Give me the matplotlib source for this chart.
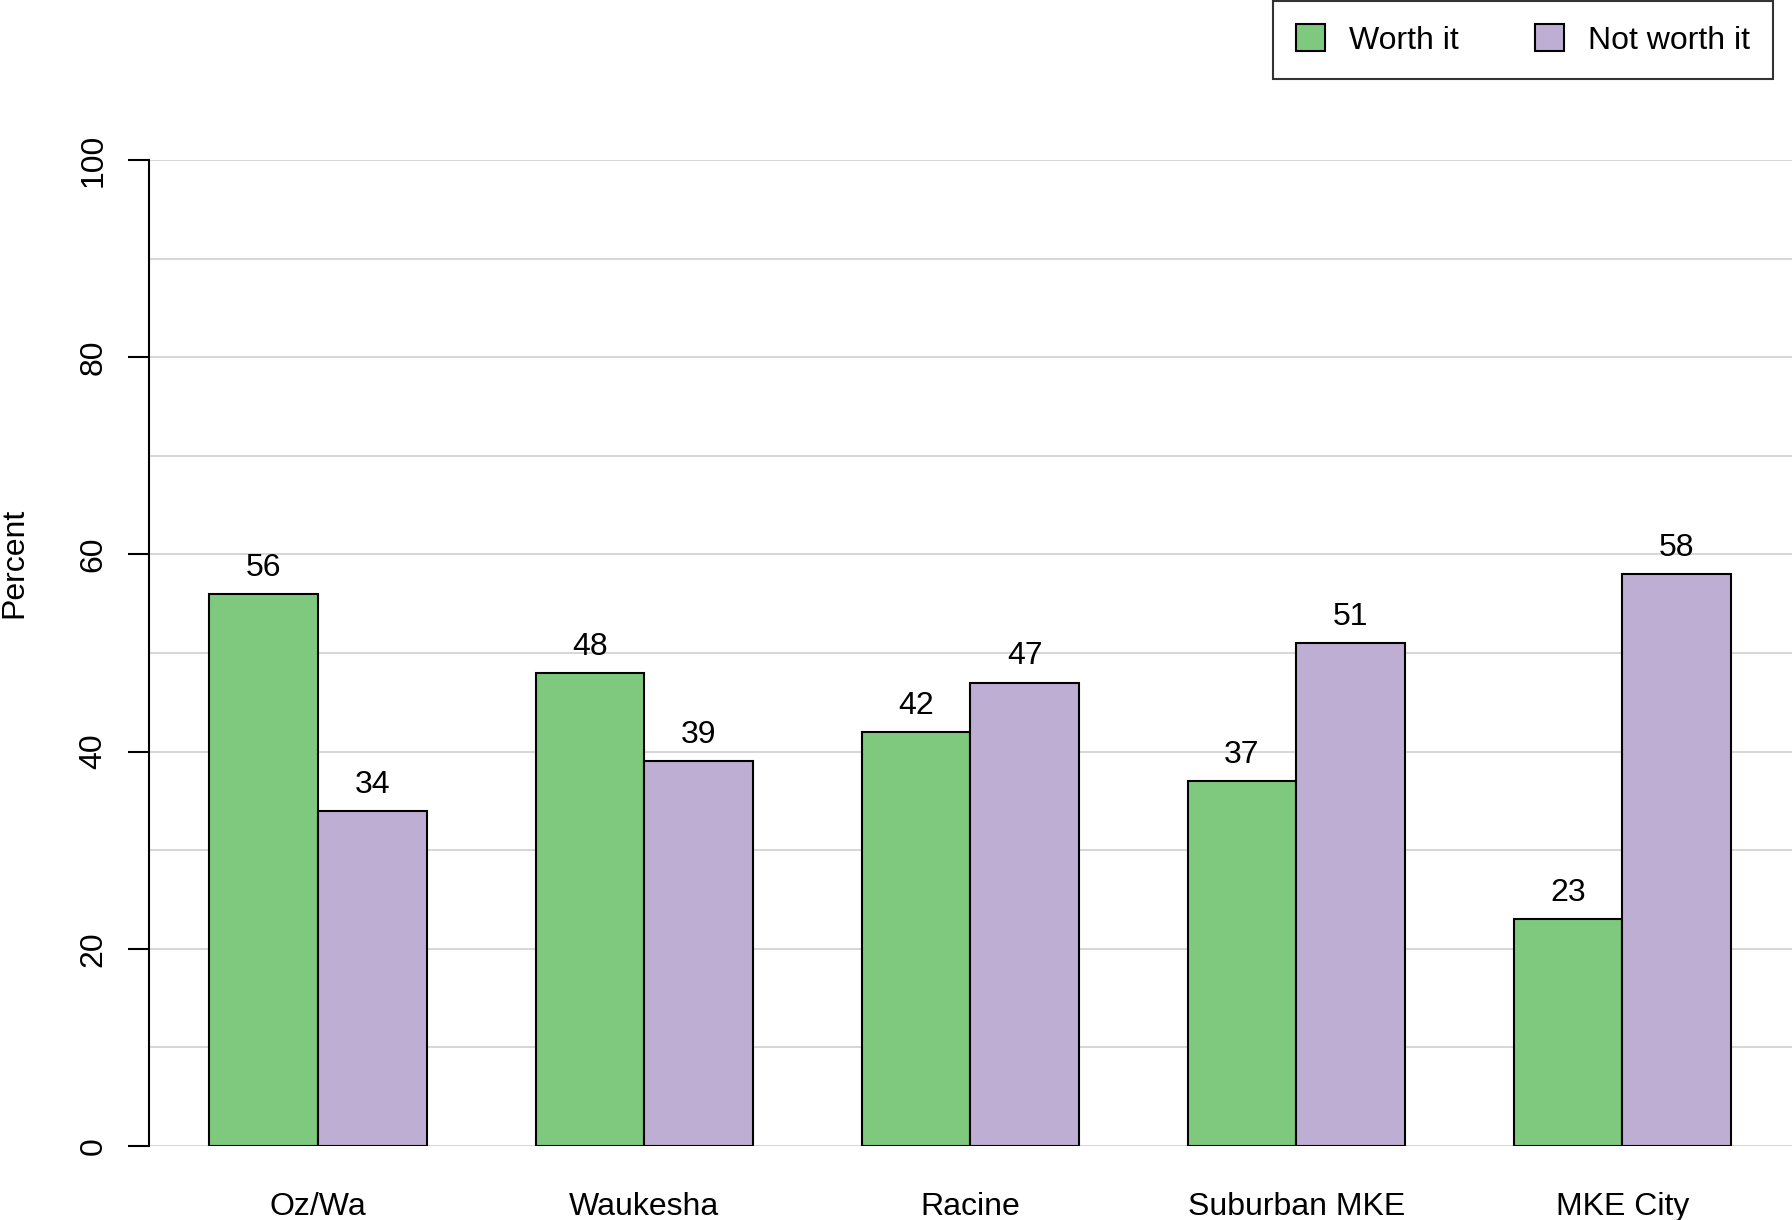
import numpy as np
import matplotlib.pyplot as plt

plt.rcParams['font.family'] = ['Liberation Sans', 'DejaVu Sans']

# Dane
regions = ['Oz/Wa', 'Waukesha', 'Racine', 'Suburban MKE', 'MKE City']
worth_it = [56, 48, 42, 37, 23]
not_worth_it = [34, 39, 47, 51, 58]
series_names = ['Worth it', 'Not worth it']
colors = ['#7FC97F', '#BEAED4']

FS = 23

fig = plt.figure(figsize=(17.92, 12.20), dpi=100)
ax = fig.add_axes([148.6 / 1792, 1 - 1146 / 1220, 1 - 148.6 / 1792, (1146 - 160) / 1220])

# pozycje słupków jak w R barplot (space = c(0, 1))
centers = 2 + 3 * np.arange(len(regions))
x_w = centers - 0.5
x_n = centers + 0.5

for y in range(0, 101, 10):
    ax.axhline(y, color='#D3D3D3', linewidth=1.3, zorder=0)

ax.bar(x_w, worth_it, width=1, color=colors[0], edgecolor='black', linewidth=1.5, label=series_names[0], zorder=2)
ax.bar(x_n, not_worth_it, width=1, color=colors[1], edgecolor='black', linewidth=1.5, label=series_names[1], zorder=2)

for xs, vals in [(x_w, worth_it), (x_n, not_worth_it)]:
    for x, v in zip(xs, vals):
        ax.annotate(str(v), (x, v), xytext=(0, 8), textcoords='offset points',
                    ha='center', va='bottom', fontsize=FS)

ax.set_xlim(0.44, 15.56)
ax.set_ylim(0, 100)
ax.set_yticks(range(0, 101, 20))
ax.set_yticklabels([str(v) for v in range(0, 101, 20)], rotation=90, va='center', fontsize=FS)
ax.tick_params(axis='y', length=15, width=1.5, pad=14)
ax.set_xticks(centers)
ax.set_xticklabels(regions, fontsize=FS)
ax.tick_params(axis='x', length=0, pad=33)

for s in ['top', 'right', 'bottom']:
    ax.spines[s].set_visible(False)
ax.spines['left'].set_bounds(0, 100)
ax.spines['left'].set_linewidth(1.5)

fig.text(14 / 1792, 1 - 563 / 1220, 'Percent', rotation=90, ha='center', va='center', fontsize=FS)

leg = fig.legend(loc='upper right', bbox_to_anchor=(1773 / 1792, 1 - 1 / 1220), ncol=2,
                 fontsize=FS, frameon=True, fancybox=False, edgecolor='black',
                 handlelength=0.9, handleheight=0.9, columnspacing=2.4, handletextpad=0.75,
                 borderpad=0.73, borderaxespad=0)
leg.get_frame().set_linewidth(1.5)

fig.savefig('out.png', dpi=100)
